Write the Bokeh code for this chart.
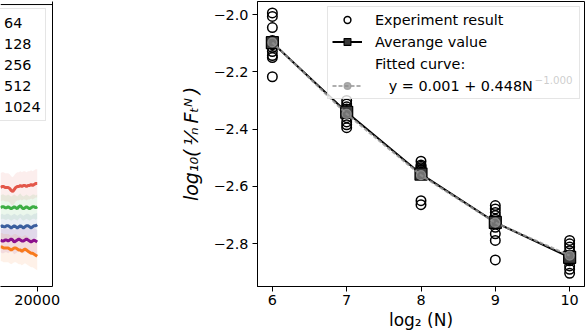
from bokeh.plotting import figure
from bokeh.layouts import row
from bokeh.models import (Range1d, FixedTicker, Legend, LegendItem, Label,
                          LinearAxis, Span)
from bokeh.embed import file_html
from bokeh.resources import INLINE

FONT = "DejaVu Sans"

# ---------------- right panel data ----------------
log2N = [6, 7, 8, 9, 10]
exp_y_6 = [-1.994, -2.006, -2.045, -2.090, -2.105, -2.115, -2.129, -2.143, -2.150, -2.217]
exp_y_7 = [-2.300, -2.312, -2.322, -2.330, -2.338, -2.345, -2.360, -2.375, -2.385, -2.395]
exp_y_8 = [-2.512, -2.525, -2.530, -2.535, -2.540, -2.545, -2.550, -2.555, -2.650, -2.664]
exp_y_9 = [-2.667, -2.679, -2.691, -2.702, -2.715, -2.725, -2.743, -2.766, -2.789, -2.857]
exp_y_10 = [-2.789, -2.801, -2.812, -2.825, -2.840, -2.850, -2.860, -2.878, -2.890, -2.904]
avg_values = [-2.098, -2.341, -2.557, -2.726, -2.848]
fit_values = [-2.097, -2.347, -2.561, -2.727, -2.842]
x_ticks = [6, 7, 8, 9, 10]
y_ticks = [-2.8, -2.6, -2.4, -2.2, -2.0]
y_tick_labels = ["\u22122.8", "\u22122.6", "\u22122.4", "\u22122.2", "\u22122.0"]
legend_labels = ["Experiment result", "Averange value", "Fitted curve:",
                 "\u00a0\u00a0\u00a0y = 0.001 + 0.448N"]
fit_exponent = "\u22121.000"

# ---------------- left panel data ----------------
steps = [17600, 17700, 17800, 17900, 18000,
         18100, 18200, 18300, 18400, 18500, 18600, 18700, 18800, 18900, 19000,
         19100, 19200, 19300, 19400, 19500, 19600, 19700, 19800, 19900, 20000]
series_names = ["64", "128", "256", "512", "1024"]
series_colors = ["#e3574a", "#3cae44", "#3b5e9e", "#8c0f8c", "#f77a1e"]
vals_64 = [95, 96, 96, 95, 95,
           95, 94, 92, 91, 93, 95, 96, 96, 97, 96, 97, 97, 96, 97, 97, 98, 97, 98, 99, 99]
vals_128 = [75, 76, 76, 75, 75,
            76, 75, 74, 75, 76, 75, 74, 76, 77, 75, 74, 75, 76, 75, 74, 75, 76, 76, 75, 76]
vals_256 = [56, 57, 56, 56, 57,
            57, 56, 55, 56, 57, 56, 55, 56, 57, 56, 55, 56, 57, 57, 56, 55, 56, 57, 57, 58]
vals_512 = [43, 42, 42, 43, 43,
            42, 43, 44, 43, 41, 42, 43, 44, 43, 42, 42, 43, 44, 43, 42, 41, 42, 43, 42, 41]
vals_1024 = [36, 36, 35, 35, 35,
             35, 34, 33, 34, 35, 35, 34, 33, 33, 32, 33, 34, 33, 32, 31, 30, 30, 29, 28, 27]
spreads = [14, 12, 12, 12, 14]
left_tick = [20000]
left_y_top = 279

# ================= left (partial) figure =================
lp = figure(width=172, height=336, x_range=Range1d(17600, 21000), y_range=Range1d(-3, left_y_top),
            output_backend="svg", toolbar_location=None, y_axis_location=None,
            min_border_left=0, min_border_right=120, min_border_top=1, min_border_bottom=50)
lp.grid.visible = False
lp.outline_line_color = None

all_vals = [vals_64, vals_128, vals_256, vals_512, vals_1024]
line_renderers = []
for vals, col, sp in zip(all_vals, series_colors, spreads):
    lo = [v - sp for v in vals]
    hi = [v + sp for v in vals]
    lp.varea(x=steps, y1=lo, y2=hi, fill_color=col, fill_alpha=0.10)
for vals, col in zip(all_vals, series_colors):
    r = lp.line(x=steps, y=vals, line_color=col, line_width=3)
    line_renderers.append(r)

xa = lp.xaxis[0]
xa.ticker = FixedTicker(ticks=left_tick)
xa.major_label_overrides = {20000: "20000"}
xa.major_label_text_font = FONT
xa.major_label_text_font_size = "14.4px"
xa.major_label_text_color = "black"
xa.major_label_standoff = 3
xa.major_tick_out = 5
xa.major_tick_in = 0
xa.minor_tick_line_color = None
xa.axis_line_color = "black"
xa.major_tick_line_color = "black"

rax = LinearAxis(ticker=FixedTicker(ticks=[]), major_tick_line_color=None,
                 minor_tick_line_color=None, axis_line_color="black",
                 major_tick_out=0, major_tick_in=0, minor_tick_out=0, minor_tick_in=0,
                 major_label_standoff=0, major_label_text_font_size="0px")
lp.add_layout(rax, "right")
lp.add_layout(Span(location=left_y_top - 3, dimension="width", line_color="black", line_width=1))

lleg = Legend(items=[LegendItem(label=n, renderers=[r]) for n, r in zip(series_names, line_renderers)],
              location=(-27, 165), padding=4, glyph_width=20, label_standoff=6,
              label_height=19, glyph_height=19, spacing=2,
              label_text_font=FONT, label_text_font_size="14.4px", label_text_color="black",
              border_line_color="#cccccc", background_fill_alpha=0.8)
lp.add_layout(lleg)

# ================= right figure =================
p = figure(width=416, height=336, x_range=Range1d(5.8, 10.2), y_range=Range1d(-2.950, -1.954),
           output_backend="svg", toolbar_location=None,
           min_border_left=85, min_border_right=4, min_border_top=1, min_border_bottom=50)
p.grid.visible = False
p.outline_line_color = "black"
p.outline_line_width = 1

exp_x = []
exp_y = []
for xv, ys in zip(log2N, [exp_y_6, exp_y_7, exp_y_8, exp_y_9, exp_y_10]):
    exp_x += [xv] * len(ys)
    exp_y += ys

r_exp = p.scatter(x=exp_x, y=exp_y, marker="circle", size=9.5, fill_color=None,
                  line_color="black", line_width=1.5)
r_avg_line = p.line(x=log2N, y=avg_values, line_color="black", line_width=2)
r_avg_sq = p.scatter(x=log2N, y=avg_values, marker="square", size=12,
                     fill_color="#3a3a3a", line_color="black", line_width=1.2)
r_fit_line = p.line(x=log2N, y=fit_values, line_color="#9a9a9a", line_width=2.2,
                    line_dash="4 2", line_alpha=0.8)
r_fit_pt = p.scatter(x=log2N, y=fit_values, marker="circle", size=9,
                     fill_color="#8a8a8a", fill_alpha=0.7, line_color="#9a9a9a",
                     line_alpha=0.8, line_width=1.2)

for ax in [p.xaxis[0], p.yaxis[0]]:
    ax.major_label_text_font = FONT
    ax.major_label_text_font_size = "14.4px"
    ax.major_label_text_color = "black"
    ax.major_tick_out = 5
    ax.major_tick_in = 0
    ax.minor_tick_line_color = None
    ax.axis_line_color = "black"
    ax.major_tick_line_color = "black"
    ax.axis_label_text_font = FONT
    ax.axis_label_text_font_size = "17px"
    ax.axis_label_text_color = "black"

p.xaxis[0].ticker = FixedTicker(ticks=x_ticks)
p.xaxis[0].major_label_standoff = 3
p.xaxis[0].axis_label = "log\u2082 (N)"
p.xaxis[0].axis_label_text_font_style = "normal"
p.xaxis[0].axis_label_standoff = 2

p.yaxis[0].ticker = FixedTicker(ticks=y_ticks)
p.yaxis[0].major_label_overrides = {t: s for t, s in zip(y_ticks, y_tick_labels)}
p.yaxis[0].major_label_standoff = 4
p.yaxis[0].axis_label = "log\u2081\u2080(\u2009\u00b9\u2044\u2099\u2009F\u209c\u1d3a\u2009)"
p.yaxis[0].axis_label_text_font_size = "19px"
p.yaxis[0].axis_label_text_font_style = "italic"
p.yaxis[0].axis_label_standoff = 9

leg = Legend(items=[
    LegendItem(label=legend_labels[0], renderers=[r_exp]),
    LegendItem(label=legend_labels[1], renderers=[r_avg_line, r_avg_sq]),
    LegendItem(label=legend_labels[2], renderers=[]),
    LegendItem(label=legend_labels[3], renderers=[r_fit_line, r_fit_pt]),
], location=(70, 187), padding=4, glyph_width=30, glyph_height=17, label_height=17,
    label_width=200, label_standoff=13, spacing=5,
    label_text_font=FONT, label_text_font_size="14.4px", label_text_color="black",
    border_line_color="#cccccc", background_fill_alpha=0.8)
p.add_layout(leg)

p.add_layout(Label(x=277, y=207, x_units="screen", y_units="screen", text=fit_exponent,
                   text_font=FONT, text_font_size="10.3px", text_baseline="alphabetic",
                   text_color="black"))

layout = row(lp, p, spacing=0)
open("out.html", "w").write(file_html(layout, INLINE))
